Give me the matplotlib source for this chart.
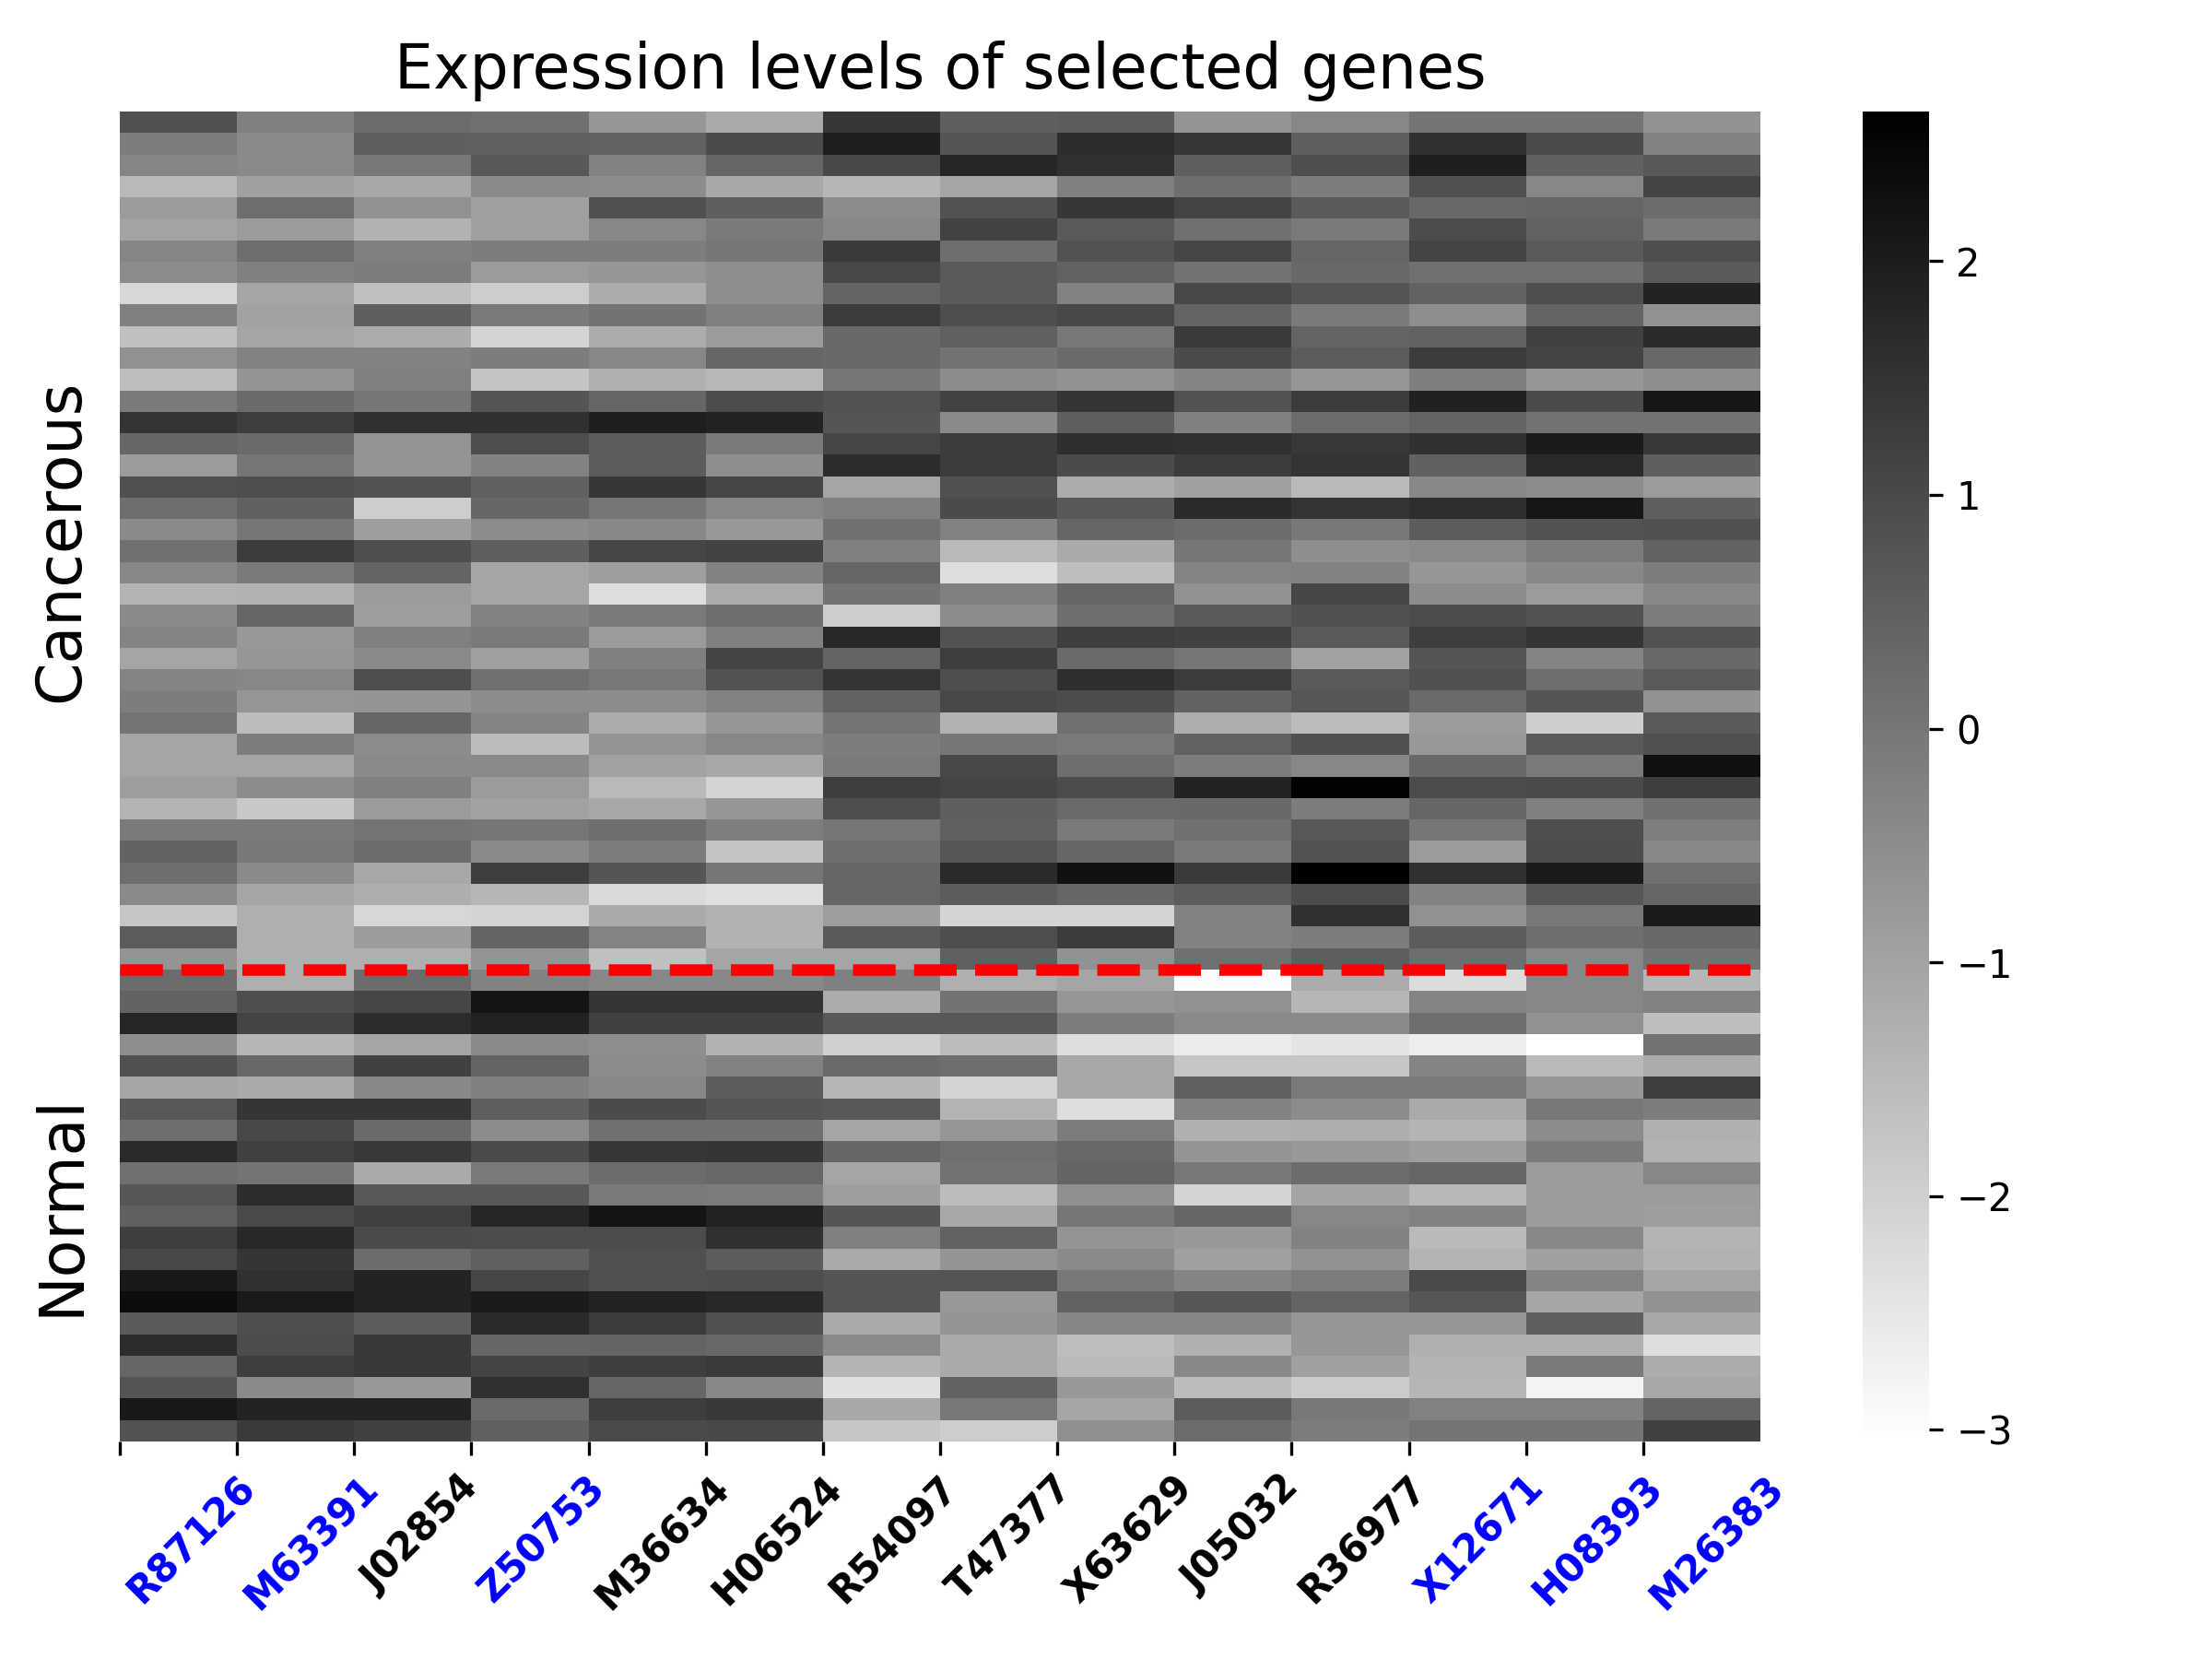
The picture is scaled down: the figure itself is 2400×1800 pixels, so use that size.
import numpy as np
import seaborn as sns
import matplotlib
matplotlib.use('Agg')
import matplotlib.pyplot as plt

gene_names = ['R87126', 'M63391', 'J02854', 'Z50753', 'M36634', 'H06524', 'R54097',
              'T47377', 'X63629', 'J05032', 'R36977', 'X12671', 'H08393', 'M26383']
blue_genes = ['R87126', 'M63391', 'Z50753', 'X12671', 'H08393', 'M26383']

# one row per tissue sample, 40 cancerous then 22 normal
cancerous_rows = [
    [.86,-.21,.23,.14,-.71,-1.15,1.41,.52,.59,-.66,-.37,.05,.05,-.62],
    [-.15,-.44,.52,.50,.45,.97,1.97,.74,1.64,1.41,.52,1.53,.97,-.26],
    [-.33,-.44,-.04,.68,-.26,.37,1.03,1.79,1.57,.52,.90,1.93,.48,.68],
    [-1.49,-.93,-1.11,-.44,-.48,-1.11,-1.42,-1.04,-.21,.19,-.15,.86,-.37,1.12],
    [-.82,.19,-.59,-.93,.86,.52,-.48,.81,1.41,1.12,.63,.32,.37,.23],
    [-1.0,-.82,-1.33,-.93,-.37,-.08,-.37,1.17,.63,.14,-.08,.95,.45,-.08],
    [-.33,.19,-.21,-.15,-.15,.01,1.35,.19,.81,1.08,.37,1.12,.63,.90],
    [-.48,-.21,-.15,-.82,-.71,-.53,1.03,.63,.45,.08,.32,.14,.14,.63],
    [-2.15,-1.04,-1.64,-1.93,-1.20,-.53,.41,.63,-.26,1.03,.77,.45,.90,1.84],
    [-.21,-.97,.52,-.08,.08,-.21,1.30,.90,1.03,.41,-.08,-.53,.41,-.59],
    [-1.64,-1.04,-1.20,-2.09,-1.20,-.82,.30,.50,-.04,1.35,.41,.45,1.21,1.70],
    [-.59,-.26,-.26,-.15,-.37,.37,.30,.08,.28,.97,.59,1.30,1.12,.32],
    [-1.60,-.66,-.21,-1.73,-1.26,-1.44,.01,-.48,-.59,-.30,-.71,-.19,-.71,-.53],
    [-.08,.25,.01,.74,.37,.95,.81,1.17,1.44,.81,1.30,1.90,.97,2.15],
    [1.48,1.26,1.57,1.53,1.97,1.86,.74,-.44,.52,-.21,.23,.41,.10,.10],
    [.37,.28,-.64,.90,.59,-.08,1.08,1.30,1.61,1.57,1.39,1.53,2.02,1.39],
    [-.82,.01,-.66,-.26,.59,-.53,1.64,1.30,.97,1.30,1.48,.48,1.70,.52],
    [.86,.90,.81,.48,1.41,1.08,-1.04,.86,-1.20,-.93,-1.51,-.39,-.48,-.82],
    [.19,.48,-1.93,.34,.01,-.37,-.21,.97,.68,1.70,1.48,1.61,2.15,.52],
    [-.44,.01,-.88,-.48,-.39,-.75,.14,-.26,.37,.23,-.04,.59,.81,.86],
    [.14,1.30,.90,.52,1.08,1.17,-.21,-1.49,-1.15,.01,-.53,-.44,-.13,.45],
    [-.37,-.08,.41,-1.04,-.88,-.26,.37,-2.31,-1.60,-.30,-.26,-.71,-.39,-.15],
    [-1.37,-1.33,-.82,-1.04,-2.31,-1.20,.08,-.21,.37,-.59,1.08,-.48,-.82,-.37],
    [-.44,.37,-.88,-.26,-.08,.19,-1.93,-.48,.19,.63,.86,.95,.81,-.15],
    [-.30,-.75,-.21,-.08,-.82,-.21,1.75,.81,1.26,1.19,.63,1.26,1.44,.81],
    [-1.04,-.71,-.44,-.93,-.21,1.12,.41,1.26,.28,.01,-.97,.74,-.30,.32],
    [-.30,-.37,.90,.14,-.04,.81,1.48,.90,1.61,1.30,.63,.86,.19,.63],
    [-.15,-.71,-.66,-.48,-.48,-.26,.45,1.03,.95,.45,.72,.28,.77,-.62],
    [.05,-1.55,.37,-.30,-1.20,-.71,.05,-1.33,.14,-1.24,-1.55,-.82,-1.95,.63],
    [-1.04,-.15,-.48,-1.55,-.66,-.37,-.15,.01,-.08,.45,.86,-.75,.63,.86],
    [-1.04,-1.04,-.44,-.44,-.97,-1.11,-.08,1.03,.19,-.15,-.37,.30,-.08,2.28],
    [-.88,-.48,-.21,-.82,-1.49,-2.09,1.26,1.12,.95,1.86,2.57,.95,.99,1.26],
    [-1.37,-1.82,-.82,-.97,-1.11,-.71,.90,.52,.28,.30,-.15,.37,-.21,.14],
    [-.08,-.08,.05,.01,.19,-.17,.01,.50,-.08,.14,.68,.01,.90,-.17],
    [.45,-.04,.23,-.44,-.13,-1.71,.19,.72,.37,-.08,.81,-.84,.95,-.37],
    [.19,-.44,-1.11,1.26,.74,.01,.37,1.70,2.24,1.35,2.64,1.57,2.02,.14],
    [-.44,-1.04,-1.24,-1.42,-2.22,-2.36,.37,.59,.37,.59,.95,-.26,.72,.37],
    [-1.78,-1.26,-2.15,-2.09,-1.15,-1.33,-.88,-2.09,-2.09,-.26,1.57,-.59,-.04,2.06],
    [.59,-1.26,-.84,.41,-.30,-1.33,.63,.90,1.30,-.26,-.15,.59,.19,.32],
    [-.66,-1.26,-1.26,-.66,-1.64,-1.04,-1.04,.50,-.62,.14,.54,.19,-.37,.08],
]
normal_rows = [
    [.23,-1.26,.23,-.26,-.39,-.39,-.21,-1.26,-1.04,-2.98,-1.20,-2.27,-.37,-1.42],
    [.45,.90,1.08,2.19,1.48,1.48,-1.20,.08,-.71,-.59,-1.42,-.30,-.37,-.26],
    [1.79,1.12,1.64,1.88,1.19,1.19,.68,.68,-.15,-.44,-.44,.19,-.59,-1.60],
    [-.53,-1.42,-1.04,-.44,-.53,-1.33,-2.00,-1.55,-2.31,-2.62,-2.44,-2.67,-3.05,.10],
    [.86,.32,1.19,.41,-.48,-.26,.28,.19,-1.11,-1.78,-1.78,-.30,-1.51,-1.20],
    [-1.04,-1.15,-.39,-.21,-.39,.59,-1.42,-2.09,-1.11,.50,-.08,-.08,-.71,1.26],
    [.68,1.44,1.44,.52,.97,.74,.68,-1.37,-2.31,-.26,-.48,-1.15,-.04,-.15],
    [.19,1.03,.28,-.48,.14,.14,-1.04,-.71,-.13,-1.28,-1.24,-1.37,-.48,-1.26],
    [1.70,1.21,1.39,.97,1.41,1.44,.37,.14,.32,-.66,-.75,-.88,-.08,-1.33],
    [.14,.05,-1.15,-.08,.23,.32,-1.04,.10,.41,-.04,.23,.37,-.84,-.37],
    [.72,1.64,.68,.68,-.08,-.13,-.88,-1.55,-.57,-2.09,-1.02,-1.46,-.84,-.84],
    [.50,.99,1.21,1.79,2.19,1.88,.74,-1.11,.01,.37,-.37,-.26,-.84,-.88],
    [1.26,1.75,.99,.95,.95,1.57,-.21,.45,-.66,-.75,-.26,-1.51,-.39,-1.37],
    [1.03,1.44,.23,.50,.86,.59,-1.15,-.66,-.44,-.93,-.62,-1.37,-.93,-1.33],
    [2.10,1.57,1.84,1.08,.86,.90,.77,.77,-.04,-.30,-.13,.99,-.30,-1.06],
    [2.37,2.06,1.84,2.02,1.86,1.75,.77,-.75,.45,.72,.41,.72,-1.06,-.62],
    [.63,.90,.59,1.70,1.30,.86,-1.15,-.66,-.35,-.35,-.71,-.71,.54,-1.11],
    [1.66,.95,1.39,.37,.41,.32,-.44,-1.15,-1.60,-1.28,-.71,-1.28,-1.28,-2.31],
    [.37,1.26,1.39,1.12,1.26,1.35,-1.37,-1.15,-1.51,-.39,-.93,-1.37,-.08,-1.20],
    [.77,-.44,-.75,1.57,.37,-.39,-2.36,.45,-.75,-1.55,-1.91,-1.42,-2.78,-1.11],
    [2.10,1.84,1.84,.28,1.26,1.39,-1.11,-.04,-1.06,.59,-.04,-.26,-.26,.41],
    [.81,1.35,1.21,.50,.99,1.03,-1.78,-1.93,-.57,.23,-.13,.05,.05,1.21],
]

expression = np.array(cancerous_rows + normal_rows)
n_cancerous = len(cancerous_rows)
n_samples = len(expression)

fig = plt.figure(figsize=(8, 6), dpi=300)
ax = fig.add_axes([130/2400, 1 - 1564/1800, 1780/2400, 1443/1800])
cax = fig.add_axes([2021/2400, 1 - 1564/1800, 72/2400, 1443/1800])

sns.heatmap(expression, cmap='gray_r', ax=ax, cbar_ax=cax)

ax.axhline(n_cancerous, color='red', linestyle='--', linewidth=3)

ax.set_title('Expression levels of selected genes', fontsize=16, pad=6)
ax.set_yticks([])
ax.set_xticks(range(len(gene_names)))
ax.set_xticklabels(gene_names, rotation=45, ha='left', fontsize=10, fontweight='bold')
for lab in ax.get_xticklabels():
    if lab.get_text() in blue_genes:
        lab.set_color('blue')

ax.text(-0.5, n_cancerous / 2, 'Cancerous', rotation=90, fontsize=16, ha='center', va='center')
ax.text(-0.5, (n_cancerous + n_samples) / 2, 'Normal', rotation=90, fontsize=16, ha='center', va='center')

fig.savefig('out.png', dpi=300)
